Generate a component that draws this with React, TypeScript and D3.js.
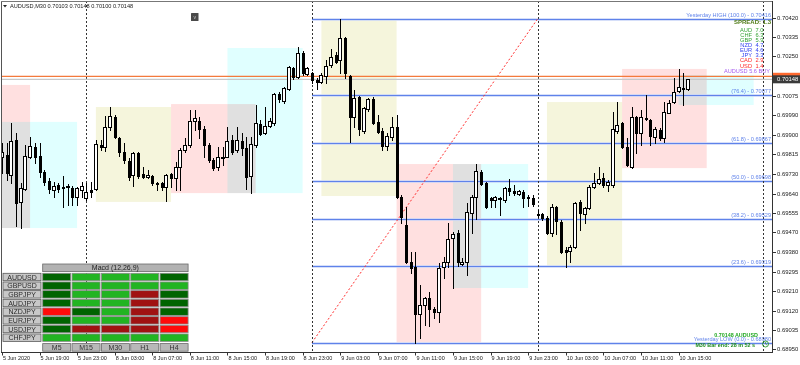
import React from "react";
import * as d3 from "d3";

const FONT = "'Liberation Sans', Arial, sans-serif";

// Bar index 0 = 5 Jun 19:00 (M30 bars, weekend skipped)
const firstBar = -8;
const opens = [
  0.69803,0.69812,0.69724,0.69879,0.69604,0.69661,0.69803,0.69848,0.69808,0.69737,
  0.69697,0.69657,0.69679,0.69670,0.69670,0.69666,0.69626,0.69657,0.69621,0.69657,
  0.69661,0.69857,0.69848,0.69936,0.69981,0.69888,0.69826,0.69786,0.69724,0.69821,
  0.69728,0.69715,0.69719,0.69688,0.69688,0.69670,0.69728,0.69710,0.69759,0.69834,
  0.69857,0.69963,0.69963,0.69928,0.69857,0.69790,0.69759,0.69799,0.69803,0.69879,
  0.69834,0.69874,0.69843,0.69719,0.69857,0.69950,0.69910,0.69941,0.69954,0.70083,
  0.70052,0.70105,0.70198,0.70158,0.70265,0.70172,0.70176,0.70145,0.70136,0.70163,
  0.70212,0.70256,0.70234,0.70331,0.70163,0.69981,0.70070,0.69919,0.70016,0.70061,
  0.69959,0.69919,0.69852,0.69892,0.69936,0.69626,0.69502,0.69338,0.69315,0.69107,
  0.69147,0.69178,0.69129,0.69116,0.69315,0.69338,0.69444,0.69466,0.69329,0.69338,
  0.69555,0.69626,0.69737,0.69688,0.69621,0.69613,0.69617,0.69613,0.69666,0.69653,
  0.69639,0.69648,0.69626,0.69621,0.69550,0.69550,0.69533,0.69466,0.69582,0.69515,
  0.69391,0.69386,0.69404,0.69604,0.69550,0.69577,0.69670,0.69688,0.69710,0.69679,
  0.69679,0.69919,0.69954,0.69848,0.69759,0.69981,0.69910,0.69976,0.69968,0.69892,
  0.69923,0.69888,0.69999,0.70047,0.70096,0.70110,0.70103,
];
const highs = [
  0.69865,0.69865,0.69954,0.69910,0.69688,0.69857,0.69892,0.69865,0.69865,0.69746,
  0.69710,0.69692,0.69688,0.69719,0.69684,0.69675,0.69670,0.69692,0.69688,0.69692,
  0.69879,0.69879,0.69985,0.70025,0.69990,0.69892,0.69865,0.69799,0.69826,0.69826,
  0.69759,0.69746,0.69724,0.69692,0.69692,0.69728,0.69732,0.69781,0.69843,0.69888,
  0.70012,0.70012,0.69981,0.69941,0.69865,0.69799,0.69848,0.69848,0.69936,0.69901,
  0.69936,0.69910,0.69892,0.69892,0.70034,0.69968,0.70025,0.69976,0.70087,0.70092,
  0.70114,0.70207,0.70203,0.70291,0.70274,0.70203,0.70180,0.70154,0.70176,0.70234,
  0.70283,0.70269,0.70416,0.70336,0.70167,0.70101,0.70074,0.70025,0.70065,0.70070,
  0.69990,0.69932,0.69910,0.69981,0.69990,0.69635,0.69582,0.69382,0.69382,0.69235,
  0.69182,0.69204,0.69138,0.69333,0.69360,0.69511,0.69471,0.69480,0.69355,0.69599,
  0.69635,0.69772,0.69746,0.69692,0.69626,0.69630,0.69626,0.69670,0.69706,0.69679,
  0.69657,0.69657,0.69635,0.69635,0.69568,0.69555,0.69542,0.69595,0.69586,0.69524,
  0.69404,0.69413,0.69604,0.69613,0.69582,0.69679,0.69732,0.69759,0.69732,0.69701,
  0.70003,0.70047,0.69959,0.69888,0.70025,0.69985,0.70012,0.70078,0.69972,0.69936,
  0.69932,0.70047,0.70056,0.70154,0.70194,0.70176,0.70148,
];
const lows = [
  0.69732,0.69701,0.69688,0.69497,0.69488,0.69657,0.69799,0.69777,0.69715,0.69679,
  0.69644,0.69626,0.69648,0.69582,0.69590,0.69590,0.69590,0.69626,0.69613,0.69626,
  0.69657,0.69834,0.69830,0.69923,0.69888,0.69808,0.69777,0.69701,0.69675,0.69710,
  0.69710,0.69710,0.69679,0.69657,0.69657,0.69608,0.69670,0.69657,0.69657,0.69826,
  0.69848,0.69923,0.69888,0.69803,0.69781,0.69746,0.69746,0.69768,0.69803,0.69817,
  0.69826,0.69812,0.69661,0.69644,0.69848,0.69901,0.69905,0.69936,0.69945,0.70047,
  0.70043,0.70101,0.70149,0.70154,0.70167,0.70167,0.70132,0.70105,0.70132,0.70132,
  0.70203,0.70220,0.70176,0.70154,0.69870,0.69936,0.69901,0.69910,0.70007,0.69950,
  0.69910,0.69834,0.69834,0.69879,0.69621,0.69511,0.69333,0.69289,0.68980,0.69000,
  0.69058,0.69054,0.69089,0.69071,0.69267,0.69315,0.69222,0.69320,0.69324,0.69280,
  0.69466,0.69528,0.69679,0.69577,0.69582,0.69582,0.69546,0.69604,0.69635,0.69635,
  0.69635,0.69582,0.69586,0.69586,0.69537,0.69524,0.69462,0.69453,0.69462,0.69377,
  0.69315,0.69338,0.69400,0.69480,0.69511,0.69573,0.69666,0.69684,0.69670,0.69653,
  0.69670,0.69910,0.69843,0.69763,0.69755,0.69821,0.69857,0.69968,0.69857,0.69865,
  0.69879,0.69870,0.69999,0.70043,0.70092,0.70034,0.70100,
];
const closes = [
  0.69826,0.69732,0.69874,0.69599,0.69666,0.69808,0.69852,0.69803,0.69737,0.69692,
  0.69661,0.69675,0.69661,0.69666,0.69675,0.69626,0.69666,0.69675,0.69648,0.69648,
  0.69861,0.69848,0.69936,0.69985,0.69892,0.69826,0.69790,0.69715,0.69821,0.69719,
  0.69715,0.69724,0.69688,0.69684,0.69670,0.69724,0.69710,0.69759,0.69834,0.69857,
  0.69963,0.69976,0.69928,0.69857,0.69790,0.69755,0.69803,0.69803,0.69874,0.69826,
  0.69879,0.69843,0.69715,0.69861,0.69954,0.69905,0.69941,0.69963,0.70083,0.70061,
  0.70110,0.70203,0.70158,0.70265,0.70176,0.70198,0.70145,0.70136,0.70167,0.70207,
  0.70247,0.70225,0.70331,0.70176,0.69981,0.70065,0.69928,0.70021,0.70061,0.69954,
  0.69914,0.69852,0.69897,0.69936,0.69626,0.69537,0.69338,0.69311,0.69107,0.69147,
  0.69178,0.69129,0.69116,0.69311,0.69338,0.69440,0.69462,0.69338,0.69338,0.69559,
  0.69626,0.69741,0.69684,0.69582,0.69613,0.69626,0.69621,0.69666,0.69653,0.69644,
  0.69653,0.69621,0.69621,0.69595,0.69546,0.69533,0.69466,0.69582,0.69519,0.69382,
  0.69382,0.69404,0.69599,0.69555,0.69577,0.69670,0.69688,0.69706,0.69679,0.69692,
  0.69928,0.69945,0.69848,0.69768,0.69981,0.69910,0.69981,0.69972,0.69897,0.69928,
  0.69888,0.70003,0.70043,0.70092,0.70114,0.70105,0.70148,
];

// Time axis
const timeTickBars = [-8, 0, 8, 16, 24, 32, 40, 48, 56, 64, 72, 80, 88, 96, 104, 112, 120, 128, 136];
const timeTickLabels = [
  "5 Jun 2020", "5 Jun 19:00", "5 Jun 23:00", "8 Jun 03:00", "8 Jun 07:00", "8 Jun 11:00",
  "8 Jun 15:00", "8 Jun 19:00", "8 Jun 23:00", "9 Jun 03:00", "9 Jun 07:00", "9 Jun 11:00",
  "9 Jun 15:00", "9 Jun 19:00", "9 Jun 23:00", "10 Jun 03:00", "10 Jun 07:00", "10 Jun 11:00",
  "10 Jun 15:00",
];
const daySeparatorBars = [10, 58, 106, 154];

// Price axis
const priceTicks = [
  0.7042, 0.70335, 0.7025, 0.70075, 0.6999, 0.699, 0.69815, 0.6973, 0.6964,
  0.69555, 0.6947, 0.6938, 0.69295, 0.6921, 0.6912, 0.69035, 0.6895,
];
const bidPrice = 0.70148;
const askPrice = 0.70161;

// Session boxes
const sessionKind = ["pink", "cyan", "beige", "pink", "cyan", "beige", "pink", "cyan", "beige", "pink", "cyan"];
const sessionStart = [-20, -8, 12, 28, 40, 60, 76, 88, 108, 124, 136];
const sessionEnd = [-2, 8, 28, 46, 56, 76, 94, 104, 124, 142, 152];
const sessionHigh = [0.70123, 0.69959, 0.70025, 0.70038, 0.70287, 0.70416, 0.69772, 0.69772, 0.70047, 0.70194, 0.70167];
const sessionLow = [0.69488, 0.69488, 0.69604, 0.69643, 0.69643, 0.6963, 0.6898, 0.69222, 0.69315, 0.69754, 0.70034];
const sessionColor: Record<string, string> = { pink: "#FFE0E0", cyan: "#E0FFFF", beige: "#F5F5DC" };

// Fibonacci on yesterday's range
const fibStartBar = 58;
const fibEndBar = 106;
const fibLevels = ["100.0", "76.4", "61.8", "50.0", "38.2", "23.6", "0.0"];
const fibPrices = [0.70416, 0.70077, 0.69867, 0.69698, 0.69529, 0.69319, 0.6898];

// Currency strength panel
const currencies = ["AUD", "CHF", "GBP", "NZD", "EUR", "JPY", "CAD", "USD"];
const strengths = [7.0, 6.3, 5.9, 4.7, 4.6, 3.3, 2.9, 1.4];
const spread = 1.3;
const signalText = "AUDUSD 5.6 BUY";

// MACD dashboard
const macdPairs = ["AUDUSD", "GBPUSD", "GBPJPY", "AUDJPY", "NZDJPY", "EURJPY", "USDJPY", "CHFJPY"];
const macdFrames = ["M5", "M15", "M30", "H1", "H4"];
const macdStates = [
  ["DG", "LG", "LG", "LG", "DG"],
  ["DG", "LG", "LG", "LG", "LG"],
  ["DG", "LG", "LG", "DR", "DG"],
  ["DG", "LG", "LG", "DR", "DG"],
  ["R", "DG", "LG", "DR", "DG"],
  ["DG", "LG", "LG", "DR", "R"],
  ["DG", "DR", "DR", "DR", "R"],
  ["LG", "LG", "LG", "LG", "LG"],
];
const macdColor: Record<string, string> = { DG: "#006400", LG: "#22B422", DR: "#A01212", R: "#FF0A0A" };

const PL = 2, PR = 772, PT = 1, PB = 352;

export default function App() {
  const x = d3.scaleLinear().domain([0, 136]).range([39.5, 678.5]);
  const y = d3.scaleLinear().domain([0.6895, 0.7042]).range([349.3, 18]);
  const fmt = d3.format(".5f");
  const bars = opens.map((o, k) => ({ i: firstBar + k, o, h: highs[k], l: lows[k], c: closes[k] }));
  const fibColor = "#5F82EA";
  const strengthColor = (v: number) => (v >= 5 ? "#36A336" : v >= 3 ? "#2F3FF0" : "#FF2A2A");

  const rowY = (r: number) => 273.3 + r * 8.67;
  const colX = (c: number) => 42.7 + c * 29.35;

  return (
    <svg width={800} height={365} style={{ position: "absolute", left: 0, top: 0, background: "#fff" }} fontFamily={FONT}>
      <defs>
        <clipPath id="plotClip">
          <rect x={PL} y={PT + 1} width={PR - PL} height={PB - PT - 1} />
        </clipPath>
      </defs>
      <rect x={0} y={0} width={800} height={365} fill="#fff" />

      <g clipPath="url(#plotClip)">
        {/* session boxes */}
        <g style={{ isolation: "isolate" }}>
          {sessionKind.map((k, s) => (
            <rect
              key={"s" + s}
              x={x(sessionStart[s])}
              y={y(sessionHigh[s])}
              width={x(sessionEnd[s]) - x(sessionStart[s])}
              height={y(sessionLow[s]) - y(sessionHigh[s])}
              fill={sessionColor[k]}
              style={{ mixBlendMode: "multiply" }}
            />
          ))}
        </g>

        {/* fib levels */}
        {fibPrices.map((p, k) => (
          <g key={"f" + k}>
            <line x1={x(fibStartBar)} x2={PR} y1={Math.round(y(p)) + 0.5} y2={Math.round(y(p)) + 0.5}
              stroke="#C9D5F7" strokeWidth={2.6} />
            <line x1={x(fibStartBar)} x2={PR} y1={Math.round(y(p)) + 0.5} y2={Math.round(y(p)) + 0.5}
              stroke={fibColor} strokeWidth={1} />
          </g>
        ))}
        <line x1={x(fibStartBar)} y1={y(fibPrices[6])} x2={x(fibEndBar)} y2={y(fibPrices[0])}
          stroke="#FF3030" strokeWidth={1} strokeDasharray="2,2" />

        {/* day separators */}
        {daySeparatorBars.map((b) => (
          <line key={"d" + b} x1={Math.round(x(b)) + 0.5} x2={Math.round(x(b)) + 0.5} y1={PT} y2={PB}
            stroke="#333" strokeWidth={1} strokeDasharray="2,2" />
        ))}

        {/* ask / bid lines */}
        <line x1={PL} x2={PR} y1={y(askPrice)} y2={y(askPrice)} stroke="#F47A3C" strokeWidth={1.2} />
        <line x1={PL} x2={PR} y1={y(bidPrice)} y2={y(bidPrice)} stroke="#C8C8C8" strokeWidth={1.2} />

        {/* candles */}
        {bars.map((b) => {
          const cx = Math.round(x(b.i)) + 0.5;
          const up = b.c >= b.o;
          const yH = Math.round(y(b.h));
          const yL = Math.round(y(b.l));
          const yTop = Math.round(y(Math.max(b.o, b.c)));
          const yBot = Math.round(y(Math.min(b.o, b.c)));
          return (
            <g key={"c" + b.i}>
              <line x1={cx} x2={cx} y1={yH} y2={yL + 1} stroke="#000" strokeWidth={1} />
              {up ? (
                <rect x={cx - 2} y={yTop + 0.5} width={3} height={Math.max(1, yBot - yTop)} fill="#fff" stroke="#000" strokeWidth={1} />
              ) : (
                <rect x={cx - 1.5} y={yTop} width={3} height={Math.max(1, yBot - yTop + 1)} fill="#000" />
              )}
            </g>
          );
        })}

        {/* fib labels */}
        {fibPrices.map((p, k) => {
          const lbl = k === 0 ? `Yesterday HIGH (${fibLevels[k]}) - ${fmt(p)}` : k === 6 ? `Yesterday LOW (${fibLevels[k]}) - ${fmt(p)}` : `(${fibLevels[k]}) - ${fmt(p)}`;
          return (
            <text key={"fl" + k} x={771} y={y(p) - 2} textAnchor="end" fontSize={5.6} fill={fibColor}>{lbl}</text>
          );
        })}
      </g>

      {/* frame / axes */}
      <line x1={1.5} x2={1.5} y1={1} y2={PB} stroke="#555" />
      <line x1={1} x2={PR} y1={1.5} y2={1.5} stroke="#777" />
      <line x1={PR + 0.5} x2={PR + 0.5} y1={1} y2={PB + 1} stroke="#333" />
      <line x1={1} x2={PR + 1} y1={PB + 0.5} y2={PB + 0.5} stroke="#333" />

      {priceTicks.map((p) => (
        <g key={"pt" + p}>
          <line x1={PR} x2={PR + 4} y1={Math.round(y(p)) + 0.5} y2={Math.round(y(p)) + 0.5} stroke="#333" />
          <text x={777} y={y(p) + 2} fontSize={5.9} fill="#1a1a1a">{fmt(p)}</text>
        </g>
      ))}
      {/* current price labels */}
      <rect x={773} y={y(askPrice) - 3.6} width={27} height={7} fill="#FF6A30" />
      <rect x={773} y={y(bidPrice) - 4} width={27} height={8} fill="#3A3A3A" />
      <text x={777} y={y(bidPrice) + 2.1} fontSize={5.9} fill="#fff">{fmt(bidPrice)}</text>

      {timeTickBars.map((b, k) => (
        <g key={"tt" + b}>
          <line x1={Math.round(x(b)) + 0.5} x2={Math.round(x(b)) + 0.5} y1={PB} y2={PB + 3.5} stroke="#333" />
          <text x={x(b) + 1} y={360} fontSize={5.5} fill="#1a1a1a">{timeTickLabels[k]}</text>
        </g>
      ))}

      {/* header */}
      <path d="M3,5 L7,5 L5,7.5 Z" fill="#222" />
      <text x={10} y={8} fontSize={5.6} fill="#1a1a1a">{`AUDUSD,M30  ${fmt(opens[opens.length - 1])} ${fmt(highs[highs.length - 1])} ${fmt(lows[lows.length - 1])} ${fmt(closes[closes.length - 1])}`}</text>
      <rect x={191} y={13} width={7.5} height={8} fill="#4A4A4A" rx={0.5} />
      <text x={194.8} y={19} fontSize={5} fill="#ccc" textAnchor="middle">v</text>

      {/* info panel */}
      <text x={771} y={24} fontSize={6} fontWeight="bold" fill="#4E7A14" textAnchor="end">{`SPREAD: ${spread.toFixed(1)}`}</text>
      {currencies.map((cur, k) => (
        <g key={"cs" + cur}>
          <text x={752} y={31.8 + k * 5.1} fontSize={5.7} fill={strengthColor(strengths[k])} textAnchor="end">{cur}</text>
          <text x={755.5} y={31.8 + k * 5.1} fontSize={5.7} fill={strengthColor(strengths[k])}>{strengths[k].toFixed(1)}</text>
        </g>
      ))}
      <text x={770} y={31.8 + 8 * 5.1} fontSize={5.6} fill="#A65CF0" textAnchor="end">{signalText}</text>

      {/* bottom right info */}
      <text x={758} y={336.8} fontSize={5.4} fontWeight="bold" fill="#22A822" textAnchor="end">{`${fmt(bidPrice)} AUDUSD`}</text>
      <text x={755} y={346.6} fontSize={5.4} fontWeight="bold" fill="#1E8C1E" textAnchor="end">M30 Bar end: 28 m 52 s</text>
      <circle cx={765.5} cy={344} r={3} fill="none" stroke="#2E9A2E" strokeWidth={0.9} />
      <path d="M765.5,342 L765.5,344 L767,345" fill="none" stroke="#2E9A2E" strokeWidth={0.7} />

      {/* MACD table */}
      <rect x={colX(0)} y={264} width={colX(4) + 28 - colX(0)} height={7.6} fill="#B2B2B2" stroke="#6A6A6A" strokeWidth={0.8} />
      <text x={(colX(0) + colX(4) + 28) / 2} y={270.4} fontSize={7} fill="#222" textAnchor="middle">Macd (12,26,9)</text>
      {macdPairs.map((pair, r) => (
        <g key={"mr" + pair}>
          <rect x={3} y={rowY(r)} width={38} height={7.4} fill="#C8C8C8" stroke="#5A5A5A" strokeWidth={0.8} />
          <text x={22} y={rowY(r) + 6.3} fontSize={7} fill="#2A2A2A" textAnchor="middle">{pair}</text>
          {macdFrames.map((f, c) => (
            <rect key={f} x={colX(c)} y={rowY(r)} width={28} height={7.4} fill={macdColor[macdStates[r][c]]} stroke="#8A8A8A" strokeWidth={0.8} />
          ))}
        </g>
      ))}
      {macdFrames.map((f, c) => (
        <g key={"mf" + f}>
          <rect x={colX(c)} y={343.6} width={28} height={7.6} fill="#B8B8B8" stroke="#6A6A6A" strokeWidth={0.8} />
          <text x={colX(c) + 14} y={350.2} fontSize={7} fill="#333" textAnchor="middle">{f}</text>
        </g>
      ))}
    </svg>
  );
}
